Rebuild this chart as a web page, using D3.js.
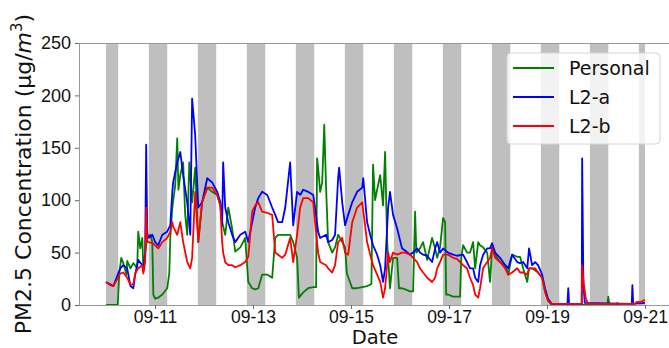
<!DOCTYPE html>
<html>
<head>
<meta charset="utf-8">
<script src="https://cdn.jsdelivr.net/npm/d3@7"></script>
<style>
  body { margin: 0; background: #fff; }
  svg { display: block; font-family: "DejaVu Sans", sans-serif; }
</style>
</head>
<body>
<div id="chart"></div>
<script>
// hours since 09-10 00:00, value in ug/m3
const startDate = new Date(2019, 8, 10);

const personal = [[0,0],[5.8,0],[6.5,30],[7.5,45],[8.5,40],[10,29],[10.4,42],[12,35],[13.4,40],[15.3,35],[15.8,70],[16.8,54],[17.8,64],[18.3,35],[20.2,64],[21.7,67],[22.7,60],[23.2,10],[24.1,6],[25.6,7],[27.6,10],[30,16],[31,30],[31.5,64],[32.5,93],[33.9,114],[34.9,159],[35.5,110],[36.4,124],[37.8,136],[38.8,86],[39.8,67],[40.8,136],[42.2,98],[43.7,131],[45.2,60],[47.1,98],[49.6,112],[52,108],[54.5,105],[56,95],[56.9,79],[58.4,67],[59.9,93],[61.8,73],[63.3,51],[65.8,55],[68.2,64],[69.7,22],[71.6,16],[73.1,15],[74.6,16],[76.5,29],[79,29],[81.4,26],[82.9,64],[84.3,67],[86.3,67],[87.8,67],[90.2,67],[91.7,60],[93.6,45],[94.5,7],[96.6,12],[99,16],[101.5,17],[102.9,17],[103.4,140],[103.9,131],[104.9,108],[105.9,117],[106.9,172],[107.8,112],[108.8,60],[110.8,50],[112.2,55],[113.7,67],[115.7,60],[117.1,55],[118,30],[120.6,16],[123,16],[125.5,17],[127.9,18],[130,20],[130.8,134],[131.8,100],[132.8,110],[134.3,124],[135.7,95],[136.7,146],[137.7,60],[138.2,45],[139.1,16],[140.6,45],[142.6,45],[143.5,16],[145,16],[146.5,15],[148.9,13],[150.4,13],[151.4,89],[152,50],[153.8,54],[155.3,60],[157.3,43],[159.7,64],[161.2,54],[162.2,45],[163.6,55],[165.1,83],[166.1,79],[166.6,10],[167.5,10],[170,8],[173.4,8],[174,45],[174.9,57],[176.8,50],[178.3,50],[179.8,60],[180.8,35],[182.3,60],[183.2,57],[184.7,55],[186.7,50],[188.1,22],[189.1,55],[190.6,48],[193,41],[195.5,38],[197,29],[198.9,48],[201.4,46],[202.8,46],[204.3,35],[206.3,22],[207.2,35],[208.7,35],[211.6,31],[213.6,26],[215,13],[216.5,4],[218.4,0],[245.5,0],[246,8],[246.5,0],[250.2,0],[250.4,2],[250.8,0],[252,0]];

const l2a = [[0,22],[2,20],[3.6,18],[7,35],[8.5,38],[10.4,35],[12,18],[13.4,16],[14.3,29],[15.8,43],[17.8,38],[18.3,32],[19.2,50],[19.7,153],[20.2,70],[20.7,64],[22.7,67],[24.1,60],[25.6,57],[27.6,67],[30,70],[31.5,76],[32.5,108],[32.9,117],[34.9,136],[36.4,146],[37.8,124],[39.8,98],[41.3,67],[42.2,197],[43.7,162],[45.2,93],[47.1,98],[49.6,121],[52,117],[54.5,108],[56,98],[56.9,76],[57.4,136],[58.4,93],[59.9,79],[61.8,67],[63.3,60],[65.8,67],[68.2,70],[69.7,60],[71.6,79],[73.1,93],[74.6,102],[76.5,108],[79,105],[81.4,93],[82.9,86],[84.3,79],[86.3,79],[87.8,93],[90.2,136],[91.7,76],[93.6,108],[95.1,105],[96.6,110],[99,108],[101.5,105],[102.4,93],[103.9,70],[104.9,64],[107.8,67],[108.8,60],[110.8,62],[112.2,67],[113.7,121],[114.2,131],[115.7,98],[117.1,76],[118.6,86],[120.6,98],[123,108],[125.5,112],[126,121],[127.9,79],[129.4,67],[130.8,57],[132.8,48],[134.3,38],[135.7,22],[136.7,35],[138.2,93],[139.1,108],[140.6,86],[142.6,73],[145,54],[146.5,52],[148.9,48],[150.4,50],[152.4,54],[153.8,50],[155.3,48],[157.3,47],[159.7,41],[161.2,54],[162.2,60],[163.6,50],[165.1,54],[167.5,50],[170,48],[171.9,47],[174.9,48],[176.8,41],[178.3,35],[179.8,35],[180.8,26],[182.3,22],[183.2,38],[184.7,48],[186.7,54],[188.1,54],[189.1,59],[190.6,50],[193,45],[195.5,38],[197,35],[198.9,48],[201.4,41],[202.8,40],[204.3,41],[206.3,35],[207.2,54],[208.7,38],[210.2,41],[211.6,38],[213.6,29],[215,16],[216.5,6],[218.4,1],[226,1],[226.4,16],[226.8,1],[233,1],[233.2,140],[233.8,20],[234.5,2],[257.5,1],[257.8,19],[258.2,1],[264,2]];

const l2b = [[0,22],[2,19],[3.6,18],[7,30],[8.5,31],[10.4,26],[12,19],[13.4,20],[14.3,30],[15.8,35],[17.8,38],[18.3,30],[19.2,41],[19.7,93],[20.2,62],[20.7,60],[22.7,59],[24.1,57],[25.6,54],[27.6,60],[30,64],[31.5,70],[32.5,79],[32.9,75],[34.9,67],[36.4,79],[37.8,60],[39.8,41],[41.3,35],[42.2,45],[43.7,108],[45.2,60],[47.1,98],[49.6,112],[52,112],[54.5,105],[56,95],[56.9,60],[57.4,50],[58.4,41],[59.9,38],[61.8,38],[63.3,36],[65.8,38],[68.2,41],[69.7,46],[71.6,89],[73.1,95],[74.6,98],[76.5,89],[79,88],[81.4,86],[82.9,50],[84.3,48],[86.3,45],[87.8,48],[90.2,64],[91.7,41],[93.6,67],[95.1,93],[96.6,102],[99,102],[101.5,98],[102.4,79],[103.9,50],[104.9,41],[107.8,38],[108.8,35],[110.8,31],[112.2,38],[113.7,60],[115.7,64],[117.1,50],[118.6,48],[120.6,79],[123,93],[125.5,98],[127.9,60],[129.4,48],[130.8,38],[132.8,29],[134.3,22],[135.7,7],[136.7,16],[138.2,50],[139.1,41],[140.6,50],[142.6,48],[145,50],[146.5,50],[148.9,48],[150.4,45],[152.4,41],[153.8,35],[155.3,31],[157.3,26],[159.7,22],[161.2,26],[162.2,35],[163.6,41],[165.1,48],[167.5,48],[170,45],[171.9,44],[173.4,41],[174.9,38],[176.8,35],[178.3,26],[179.8,19],[180.8,10],[182.3,7],[183.2,16],[184.7,35],[186.7,41],[188.1,45],[189.1,54],[190.6,45],[193,41],[195.5,35],[197,29],[198.9,31],[201.4,35],[202.8,31],[204.3,31],[206.3,29],[207.2,35],[208.7,35],[210.2,35],[211.6,31],[213.6,26],[215,13],[216.5,4],[218.4,1],[233,1],[233.2,38],[234,20],[235,6],[236.2,1],[259,1],[260,3],[262,3],[264,5]];

// night periods (hours since start)
const nights = [[0,6],[21,30],[45,54],[69,78],[93,102],[117,126],[141,150],[165,174],[189,198],[213,222],[237,246],[261,264]];

const tickLabels = ["09-11","09-13","09-15","09-17","09-19","09-21"];
const yTicks = [0, 50, 100, 150, 200, 250];

const series = [
  { name: "Personal", data: personal, color: "green" },
  { name: "L2-a", data: l2a, color: "blue" },
  { name: "L2-b", data: l2b, color: "red" }
];

const width = 669, height = 348;
const margin = { top: 43, left: 79 };
const plotRight = 672, plotBottom = 305;

const toDate = h => new Date(startDate.getTime() + h * 3600e3);

const svg = d3.select("#chart").append("svg")
  .attr("width", width)
  .attr("height", height);

// matplotlib-like 5% margins on time axis
const allH = series.flatMap(s => s.data.map(d => d[0]));
const hMin = d3.min(allH), hMax = d3.max(allH);
const pad = (hMax - hMin) * 0.05;

const x = d3.scaleTime()
  .domain([toDate(hMin - pad), toDate(hMax + pad)])
  .range([margin.left, plotRight]);

const y = d3.scaleLinear()
  .domain([0, 250])
  .range([plotBottom, margin.top]);

svg.append("clipPath").attr("id", "clip")
  .append("rect")
  .attr("x", margin.left).attr("y", margin.top)
  .attr("width", plotRight - margin.left).attr("height", plotBottom - margin.top);

// night shading
svg.append("g").selectAll("rect")
  .data(nights)
  .enter().append("rect")
  .attr("x", d => x(toDate(d[0])))
  .attr("width", d => x(toDate(d[1])) - x(toDate(d[0])))
  .attr("y", margin.top)
  .attr("height", plotBottom - margin.top)
  .attr("fill", "#bfbfbf");

const line = d3.line()
  .x(d => x(toDate(d[0])))
  .y(d => y(d[1]));

svg.append("g").attr("clip-path", "url(#clip)")
  .selectAll("path")
  .data(series)
  .enter().append("path")
  .attr("d", d => line(d.data))
  .attr("fill", "none")
  .attr("stroke", d => d.color)
  .attr("stroke-width", 1.8)
  .attr("stroke-linejoin", "round");

// frame
svg.append("rect")
  .attr("x", margin.left + 0.5).attr("y", margin.top + 0.5)
  .attr("width", plotRight - margin.left).attr("height", plotBottom - margin.top)
  .attr("fill", "none")
  .attr("stroke", "#999");

const parseTick = d3.timeParse("%Y-%m-%d");
const xAxis = d3.axisBottom(x)
  .tickValues(tickLabels.map(t => parseTick("2019-" + t)))
  .tickFormat(d3.timeFormat("%m-%d"))
  .tickSize(4)
  .tickPadding(2);

const gx = svg.append("g")
  .attr("transform", `translate(0,${plotBottom})`)
  .call(xAxis);
gx.select(".domain").remove();
gx.selectAll(".tick line").attr("stroke", "#666");
gx.selectAll("text").attr("font-size", 17.5).attr("fill", "#111");

const yAxis = d3.axisLeft(y)
  .tickValues(yTicks)
  .tickSize(4)
  .tickPadding(4);

const gy = svg.append("g")
  .attr("transform", `translate(${margin.left},0)`)
  .call(yAxis);
gy.select(".domain").remove();
gy.selectAll(".tick line").attr("stroke", "#666");
gy.selectAll("text").attr("font-size", 18).attr("fill", "#111");

// axis labels
svg.append("text")
  .attr("x", 375)
  .attr("y", 343.6)
  .attr("text-anchor", "middle")
  .attr("font-size", 19.5)
  .attr("fill", "#111")
  .text("Date");

const yl = svg.append("text")
  .attr("transform", "translate(31,174) rotate(-90)")
  .attr("text-anchor", "middle")
  .attr("font-size", 22)
  .attr("fill", "#111");
yl.append("tspan").text("PM2.5 Concentration (μg/");
yl.append("tspan").attr("font-style", "italic").text("m");
yl.append("tspan").attr("font-size", 15).attr("dy", -9).text("3");
yl.append("tspan").attr("dy", 9).text(")");

// legend
const lg = svg.append("g").attr("transform", "translate(507,53)");
lg.append("rect")
  .attr("width", 153).attr("height", 91)
  .attr("rx", 4)
  .attr("fill", "#fff").attr("fill-opacity", 0.8)
  .attr("stroke", "#d6d6d6");

const items = lg.selectAll("g.item")
  .data(series)
  .enter().append("g")
  .attr("transform", (d, i) => `translate(0,${15 + i * 29})`);
items.append("line")
  .attr("x1", 6).attr("x2", 47)
  .attr("stroke", d => d.color)
  .attr("stroke-width", 1.8);
items.append("text")
  .attr("x", 62).attr("dy", "0.35em")
  .attr("font-size", 19)
  .attr("fill", "#111")
  .text(d => d.name);
</script>
</body>
</html>
